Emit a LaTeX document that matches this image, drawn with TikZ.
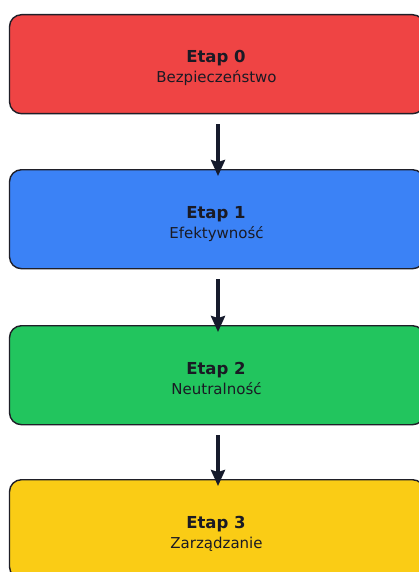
\documentclass[tikz,border=0pt]{standalone}
\usepackage{fontspec}
\setmainfont{DejaVu Sans}
\usetikzlibrary{arrows.meta}
\definecolor{cRed}{HTML}{EF4444}
\definecolor{cBlue}{HTML}{3B82F6}
\definecolor{cGreen}{HTML}{22C55E}
\definecolor{cYellow}{HTML}{FACC15}
\definecolor{cEdge}{HTML}{1F1F28}
\definecolor{cText}{HTML}{1A1A24}
\definecolor{cArrow}{HTML}{161B2C}
\tikzset{
  stagebox/.style={draw=cEdge, line width=1.4pt, rounded corners=12pt,
    minimum width=415pt, minimum height=99pt, inner sep=0pt, anchor=north},
  titletext/.style={anchor=base, text=cText, font=\fontsize{16.5}{18}\selectfont\bfseries, inner sep=0pt},
  subtext/.style={anchor=base, text=cText, font=\fontsize{15}{17}\selectfont, inner sep=0pt},
  flowarrow/.style={draw=cArrow, line width=3.2pt,
    -{Stealth[length=16pt,width=14pt,inset=2pt]}, shorten <=9.7pt, shorten >=-7pt}
}
\begin{document}
\begin{tikzpicture}[x=1pt,y=-1pt]
\useasboundingbox (0,0) rectangle (419,572);
\clip (0,0) rectangle (419,572);
\fill[white] (0,0) rectangle (419,572);
\node[stagebox, fill=cRed]    (b0) at (217,14)  {};
\node[stagebox, fill=cBlue]   (b1) at (217,169) {};
\node[stagebox, fill=cGreen]  (b2) at (217,325) {};
\node[stagebox, fill=cYellow] (b3) at (217,479) {};
\node[titletext] (t0) at (216,63)  {Etap 0};
\node[subtext]   (s0) at (216.5,83)  {Bezpieczeństwo};
\node[titletext] (t1) at (216,218) {Etap 1};
\node[subtext]   (s1) at (216.5,238) {Efektywność};
\node[titletext] (t2) at (216,374) {Etap 2};
\node[subtext]   (s2) at (216.5,394) {Neutralność};
\node[titletext] (t3) at (216,528) {Etap 3};
\node[subtext]   (s3) at (216.5,548) {Zarządzanie};
\draw[flowarrow] ([xshift=1pt]b0.south) -- ([xshift=1pt]b1.north);
\draw[flowarrow] ([xshift=1pt]b1.south) -- ([xshift=1pt]b2.north);
\draw[flowarrow] ([xshift=1pt]b2.south) -- ([xshift=1pt]b3.north);
\end{tikzpicture}
\end{document}
